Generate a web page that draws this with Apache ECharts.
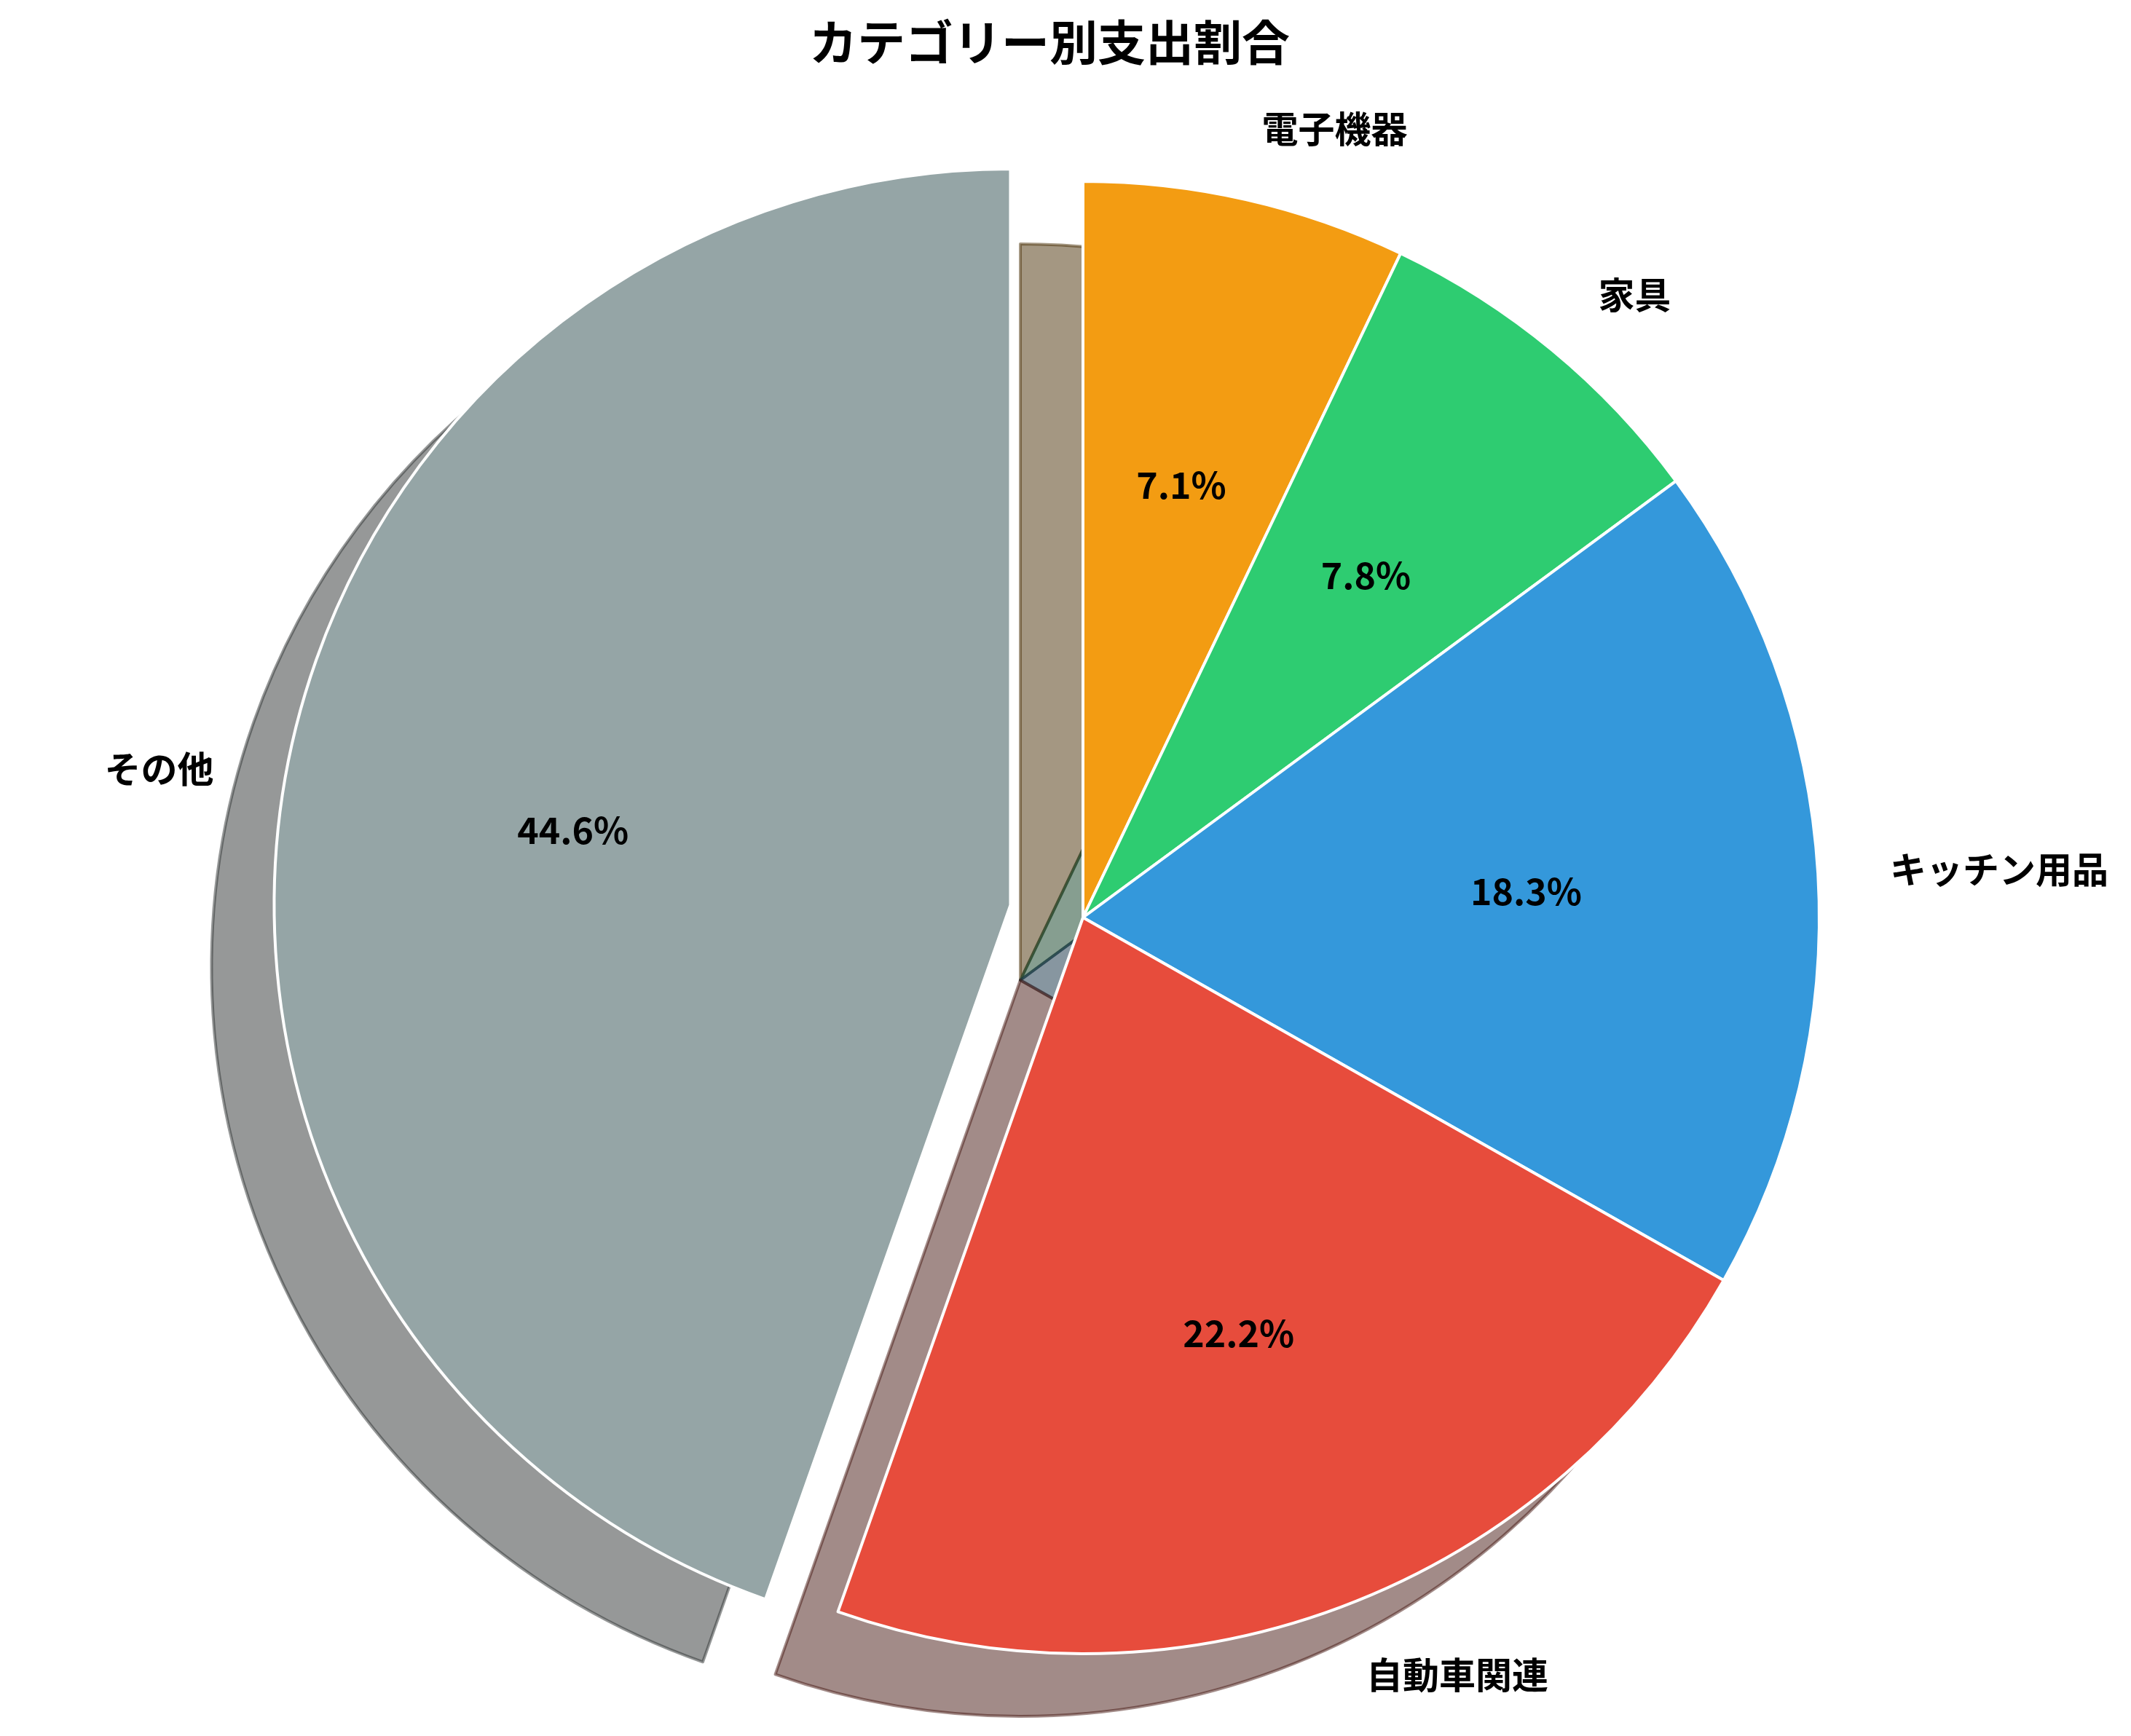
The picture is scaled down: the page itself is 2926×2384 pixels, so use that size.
<!DOCTYPE html>
<html>
<head>
<meta charset="utf-8">
<script src="https://cdn.jsdelivr.net/npm/echarts@6/dist/echarts.min.js"></script>
<style>
  html, body { margin: 0; padding: 0; background: #fff; }
  #main { width: 2926px; height: 2384px; }
</style>
</head>
<body>
<div id="main"></div>
<script>
// data (clockwise from 12 o'clock)
const categories = ['電子機器', '家具', 'キッチン用品', '自動車関連', 'その他'];
const shares = [7.1, 7.8, 18.3, 22.2, 44.6];
const colors = ['#f39c12', '#2ecc71', '#3498db', '#e74c3c', '#95a5a6'];
const exploded = 'その他';

const CX = 1487, CY = 1260, R = 1011;
const EXPLODE = 101;   // 0.1 * R
const SHADOW = 86;     // shadow shift down-left
const FONT = '"Noto Sans CJK JP", "Noto Sans", sans-serif';

// shadow colour = 0.3 * face colour
function shade(hex) {
  const n = parseInt(hex.slice(1), 16);
  const r = Math.round(((n >> 16) & 255) * 0.3);
  const g = Math.round(((n >> 8) & 255) * 0.3);
  const b = Math.round((n & 255) * 0.3);
  return 'rgb(' + r + ',' + g + ',' + b + ')';
}

function items(styleFn) {
  return categories.map((name, i) => ({
    name: name,
    value: shares[i],
    selected: name === exploded,
    itemStyle: styleFn(i)
  }));
}

const common = {
  type: 'pie',
  startAngle: 90,
  clockwise: true,
  selectedMode: 'multiple',
  selectedOffset: EXPLODE,
  avoidLabelOverlap: false,
  emphasis: { disabled: true },
  animation: false
};

const chart = echarts.init(document.getElementById('main'));
chart.setOption({
  backgroundColor: '#ffffff',
  animation: false,
  title: {
    text: 'カテゴリー別支出割合',
    left: 1436,
    textAlign: 'center',
    top: 20,
    textStyle: { fontFamily: FONT, fontSize: 66, fontWeight: 'bold', color: '#000' }
  },
  series: [
    // shadow
    Object.assign({}, common, {
      silent: true,
      z: 1,
      center: [CX - SHADOW, CY + SHADOW],
      radius: R,
      label: { show: false },
      labelLine: { show: false },
      data: items(i => ({
        color: shade(colors[i]),
        borderColor: shade(colors[i]),
        borderWidth: 4,
        opacity: 0.5
      }))
    }),
    // wedges + category labels
    Object.assign({}, common, {
      silent: true,
      z: 2,
      center: [CX, CY],
      radius: R,
      label: {
        show: true,
        position: 'outside',
        formatter: '{b}',
        distanceToLabelLine: 0,
        fontFamily: FONT,
        fontSize: 50,
        fontWeight: 'bold',
        color: '#000'
      },
      labelLine: { show: false, length: EXPLODE - 2, length2: 0 },
      data: items(i => ({
        color: colors[i],
        borderColor: '#ffffff',
        borderWidth: 4
      }))
    }),
    // percentage labels at 0.6 R
    Object.assign({}, common, {
      silent: true,
      z: 3,
      center: [CX, CY],
      radius: R * 1.2,
      label: {
        show: true,
        position: 'inside',
        formatter: p => p.value.toFixed(1) + '%',
        fontFamily: FONT,
        fontSize: 50,
        fontWeight: 'bold',
        color: '#000'
      },
      labelLine: { show: false },
      data: items(() => ({ color: 'rgba(0,0,0,0)', borderWidth: 0 }))
    })
  ]
});
</script>
</body>
</html>
